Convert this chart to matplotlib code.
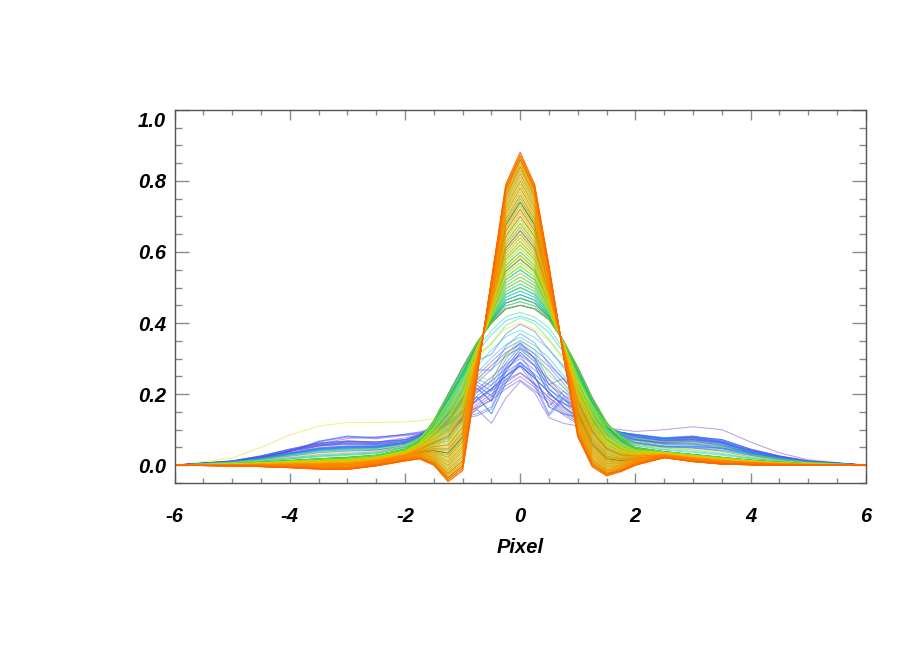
import numpy as np
import matplotlib
matplotlib.use("Agg")
import matplotlib.pyplot as plt
from matplotlib.colors import LinearSegmentedColormap
from matplotlib.ticker import MultipleLocator, FixedLocator

# ---------------- data ----------------
pixel = [-6, -5, -4.5, -4, -3.5, -3, -2.5, -2, -1.75, -1.5, -1.25, -1, -0.75, -0.5, -0.25,
         0, 0.25, 0.5, 0.75, 1, 1.25, 1.5, 1.75, 2, 2.5, 3, 3.5, 4, 4.5, 5, 6]

# narrow profile (tallest, with side dips)
narrow = [0, -0.002, -0.004, -0.007, -0.011, -0.012, -0.002, 0.012, 0.018, 0.000, -0.046, -0.015,
          0.25, 0.52, 0.79, 0.88, 0.79, 0.56, 0.31, 0.08, -0.004, -0.030, -0.018, 0.000,
          0.021, 0.010, 0.003, 0.001, 0, 0, 0]
# medium-width profile (peak ~0.45)
medium = [0, 0.004, 0.008, 0.013, 0.018, 0.022, 0.028, 0.045, 0.07, 0.125, 0.20, 0.275,
          0.345, 0.40, 0.44, 0.45, 0.44, 0.41, 0.35, 0.275, 0.19, 0.12, 0.075, 0.05,
          0.038, 0.03, 0.022, 0.014, 0.008, 0.004, 0]
# broad low profile (peak ~0.28)
broad = [0, 0.012, 0.026, 0.045, 0.062, 0.068, 0.065, 0.072, 0.085, 0.10, 0.115, 0.145,
         0.185, 0.215, 0.25, 0.28, 0.245, 0.205, 0.165, 0.135, 0.115, 0.10, 0.092, 0.085,
         0.075, 0.08, 0.072, 0.045, 0.026, 0.012, 0]
# irregular low profile
zigzag = [0, 0.01, 0.02, 0.035, 0.05, 0.055, 0.055, 0.065, 0.08, 0.095, 0.12, 0.16,
          0.20, 0.15, 0.24, 0.30, 0.26, 0.17, 0.15, 0.14, 0.12, 0.105, 0.095, 0.09,
          0.08, 0.085, 0.07, 0.04, 0.022, 0.01, 0]
# two individual lines with high wings
yellow_line = [0, 0.02, 0.05, 0.085, 0.11, 0.12, 0.12, 0.122, 0.125, 0.13, 0.15, 0.19,
               0.24, 0.28, 0.31, 0.33, 0.30, 0.24, 0.18, 0.13, 0.10, 0.08, 0.07, 0.065,
               0.06, 0.06, 0.05, 0.03, 0.015, 0.006, 0]
purple_line = [0, 0.008, 0.02, 0.04, 0.06, 0.075, 0.08, 0.085, 0.09, 0.10, 0.12, 0.15,
               0.18, 0.21, 0.24, 0.26, 0.23, 0.19, 0.16, 0.13, 0.115, 0.105, 0.10, 0.095,
               0.10, 0.108, 0.10, 0.065, 0.035, 0.015, 0]

# peak heights of the individual profiles, grouped by colour
peaks_violet_blue = [0.26, 0.30, 0.24, 0.33, 0.28, 0.22, 0.31, 0.27, 0.35, 0.29, 0.25, 0.32, 0.28,
                     0.39, 0.30, 0.26, 0.34, 0.45, 0.29, 0.31, 0.48, 0.27, 0.33, 0.36, 0.50]
peaks_blue_cyan = [0.30, 0.46, 0.52, 0.28, 0.49, 0.55, 0.33, 0.47, 0.60, 0.51, 0.27, 0.58, 0.48,
                   0.42, 0.65, 0.53, 0.31, 0.70, 0.56, 0.50, 0.62, 0.36, 0.75, 0.54, 0.68]
peaks_cyan_green = [0.45, 0.58, 0.72, 0.50, 0.80, 0.63, 0.38, 0.55, 0.84, 0.67, 0.48, 0.76, 0.60,
                    0.86, 0.52, 0.70, 0.43, 0.82, 0.57, 0.66, 0.74, 0.49, 0.87, 0.61, 0.78, 0.53,
                    0.69, 0.41, 0.83, 0.59, 0.72, 0.46, 0.85, 0.64, 0.56, 0.79, 0.51, 0.75, 0.62, 0.86]
peaks_green_yellow = [0.55, 0.81, 0.47, 0.68, 0.86, 0.60, 0.73, 0.34, 0.84, 0.58, 0.77, 0.64, 0.50,
                      0.87, 0.70, 0.62, 0.80, 0.56, 0.75, 0.45, 0.83, 0.66, 0.59, 0.78, 0.72, 0.53,
                      0.85, 0.69, 0.61, 0.82, 0.57, 0.76, 0.40, 0.74, 0.65, 0.84, 0.52, 0.71, 0.79, 0.63]
peaks_yellow_orange = [0.60, 0.78, 0.68, 0.85, 0.56, 0.74, 0.82, 0.64, 0.87, 0.70, 0.58, 0.80, 0.66,
                       0.76, 0.86, 0.62, 0.72, 0.84, 0.54, 0.79, 0.68, 0.88, 0.75, 0.63, 0.83, 0.71,
                       0.86, 0.59, 0.77, 0.81, 0.67, 0.85, 0.73, 0.87, 0.65, 0.80, 0.70, 0.84, 0.76,
                       0.88, 0.72, 0.82, 0.86, 0.78, 0.87, 0.84, 0.88, 0.86, 0.87, 0.88]
peaks_dark = [0.45, 0.47, 0.58, 0.66, 0.74]

x_ticks = [-6, -4, -2, 0, 2, 4, 6]
y_ticks = [0.0, 0.2, 0.4, 0.6, 0.8, 1.0]
x_label = "Pixel"

# ---------------- profile construction ----------------
P = np.array(pixel)
NARROW, MEDIUM, BROAD, ZIG = map(np.array, (narrow, medium, broad, zigzag))
P_N, P_M, P_B = 0.88, 0.45, 0.28


def profile(p, k):
    low = ZIG if k % 2 else BROAD
    if k % 3 == 0 and k % 2:
        low = ZIG[::-1]
    if p >= P_M:
        a = (p - P_M) / (P_N - P_M)
        return (1 - a) * MEDIUM + a * NARROW
    if p <= P_B:
        return low * p / P_B
    b = (p - P_B) / (P_M - P_B)
    return (1 - b) * low + b * MEDIUM


all_peaks = (peaks_violet_blue + peaks_blue_cyan + peaks_cyan_green +
             peaks_green_yellow + peaks_yellow_orange)
n = len(all_peaks)

cmap = LinearSegmentedColormap.from_list(
    "rb", ["#7a3fc8", "#3a5cff", "#1aa0ff", "#00d8c8", "#00ee60", "#40ff00",
           "#b8f000", "#ffe000", "#ffb000", "#ff8000", "#ff6400"])

# ---------------- figure ----------------
plt.rcParams['font.family'] = ['Liberation Sans', 'DejaVu Sans']
fig = plt.figure(figsize=(9, 6.5), dpi=100)
ax = fig.add_axes([0.194, 0.257, 0.768, 0.574])

ax.plot(P, yellow_line, color="#f0e040", lw=0.75, alpha=0.6, zorder=2)
ax.plot(P, purple_line, color="#9a5ad8", lw=0.75, alpha=0.6, zorder=2)

# drawing order: broadly by colour (orange last) with local interleaving
n_last = 10
body = list(range(n - n_last))
order = sorted(body, key=lambda k: k + ((k * 37) % 45) - 22) + list(range(n - n_last, n))
dark_slots = {order[45]: 0, order[70]: 1, order[90]: 2, order[105]: 3, order[118]: 4}
for k in order:
    if k in dark_slots:
        j = dark_slots[k]
        ax.plot(P, profile(peaks_dark[j], j + 2), color="#3c4646", lw=0.8, alpha=0.6, zorder=2)
    ax.plot(P, profile(all_peaks[k], k), color=cmap(k / (n - 1)), lw=0.75, alpha=0.5, zorder=2)

ax.set_xlim(-6, 6)
ax.set_ylim(-0.05, 1.0)

ax.xaxis.set_major_locator(FixedLocator(x_ticks))
ax.xaxis.set_minor_locator(MultipleLocator(0.5))
ax.yaxis.set_major_locator(FixedLocator(y_ticks))
ax.yaxis.set_minor_locator(MultipleLocator(0.05))

tick_col = "#8a8a8a"
ax.tick_params(axis="x", which="major", direction="in", length=7, width=1, color=tick_col,
               top=True, bottom=True, pad=17)
ax.tick_params(axis="x", which="minor", direction="in", length=3.5, width=1, color=tick_col,
               top=True, bottom=True)
ax.tick_params(axis="y", which="major", direction="in", length=10, width=1, color=tick_col,
               left=True, right=True, pad=6)
ax.tick_params(axis="y", which="minor", direction="in", length=5, width=1, color=tick_col,
               left=True, right=True)

lab_font = dict(fontsize=14.5, fontweight="bold", fontstyle="italic")
ax.set_xticklabels([f"{v:g}" for v in x_ticks], **lab_font)
ylabs = [f"{v:.1f}" for v in y_ticks]
ylabs[-1] = ""
ax.set_yticklabels(ylabs, **lab_font)
ax.annotate(f"{y_ticks[-1]:.1f}", xy=(0, y_ticks[-1]), xycoords=("axes fraction", "data"),
            xytext=(-6, -8.5), textcoords="offset points", ha="right", va="center", **lab_font)

ax.set_xlabel(x_label, labelpad=9, **lab_font)

for s in ax.spines.values():
    s.set_color("#555555")
    s.set_linewidth(1.0)

fig.savefig("out.png", dpi=100)
